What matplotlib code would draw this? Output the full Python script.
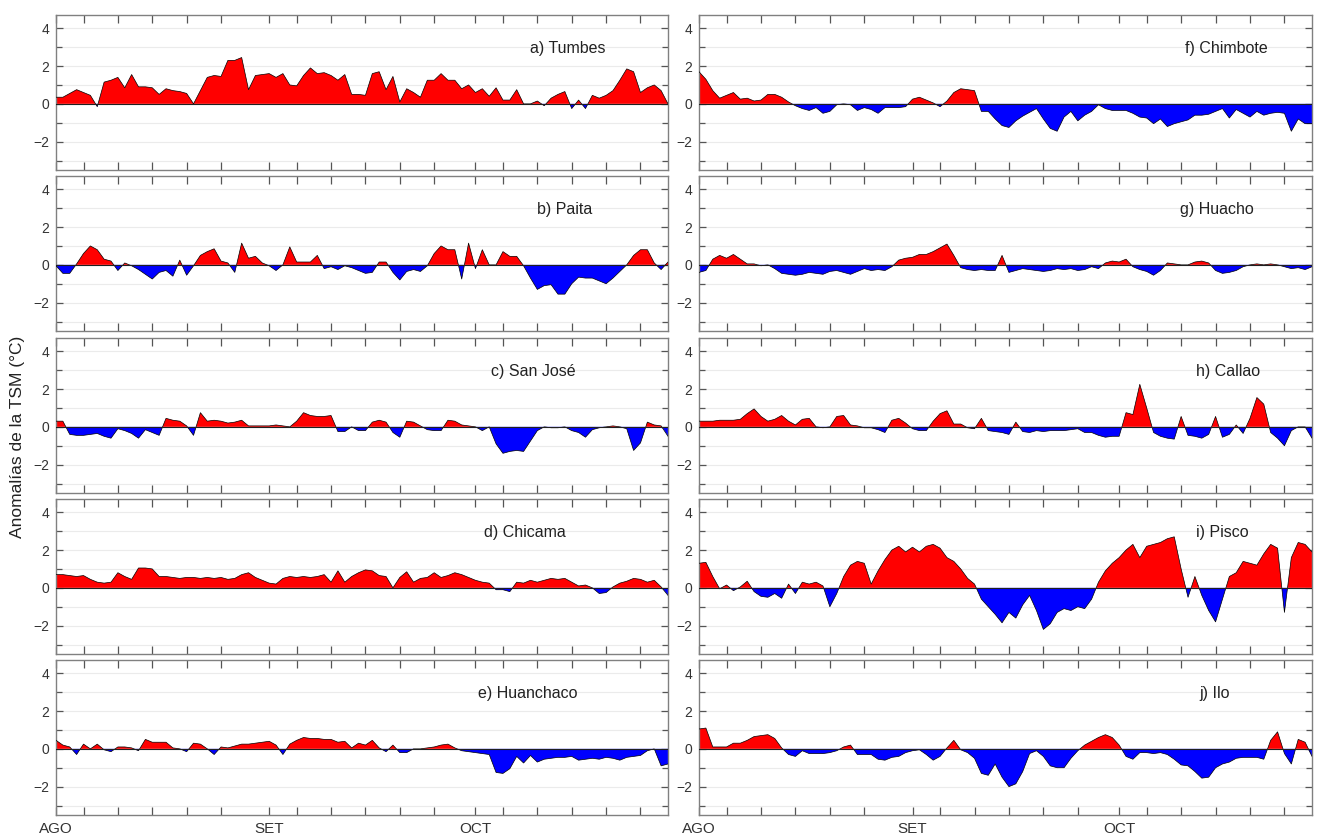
import numpy as np
import matplotlib.pyplot as plt

plt.rcParams['font.family'] = ['Liberation Sans', 'DejaVu Sans']

# Anomalias diarias de la TSM (°C), 1 ago - 29 oct
stations = ["a) Tumbes", "b) Paita", "c) San José", "d) Chicama", "e) Huanchaco",
            "f) Chimbote", "g) Huacho", "h) Callao", "i) Pisco", "j) Ilo"]

tumbes = [0.35, 0.35, 0.55, 0.75, 0.6, 0.45, -0.15, 1.15, 1.25, 1.4,
          0.85, 1.55, 0.9, 0.9, 0.85, 0.5, 0.8, 0.7, 0.65, 0.55,
          0.0, 0.7, 1.4, 1.5, 1.45, 2.3, 2.3, 2.45, 0.75, 1.5,
          1.55, 1.6, 1.4, 1.6, 1.0, 0.95, 1.5, 1.9, 1.6, 1.65,
          1.5, 1.25, 1.55, 0.5, 0.5, 0.45, 1.6, 1.7, 0.75, 1.45,
          0.1, 0.8, 0.6, 0.35, 1.25, 1.25, 1.6, 1.25, 1.25, 0.8,
          1.0, 0.6, 0.8, 0.4, 0.85, 0.2, 0.2, 0.75, 0.0, 0.0,
          0.15, -0.1, 0.3, 0.5, 0.65, -0.25, 0.2, -0.25, 0.45, 0.3,
          0.45, 0.7, 1.25, 1.85, 1.7, 0.6, 0.85, 1.0, 0.7, 0.0]

paita = [-0.05, -0.45, -0.45, 0.05, 0.6, 1.0, 0.8, 0.3, 0.2, -0.3,
         0.1, -0.05, -0.25, -0.5, -0.75, -0.4, -0.3, -0.6, 0.25, -0.55,
         -0.05, 0.5, 0.7, 0.85, 0.2, 0.1, -0.4, 1.15, 0.35, 0.45,
         0.1, -0.05, -0.3, 0.0, 0.95, 0.15, 0.15, 0.15, 0.5, -0.2,
         -0.1, -0.25, -0.05, -0.15, -0.3, -0.45, -0.4, 0.15, 0.15, -0.4,
         -0.8, -0.35, -0.25, -0.35, -0.05, 0.6, 1.0, 0.8, 0.8, -0.75,
         1.15, -0.2, 0.8, 0.0, 0.0, 0.7, 0.45, 0.45, -0.05, -0.7,
         -1.3, -1.1, -1.05, -1.55, -1.55, -1.0, -0.65, -0.7, -0.7, -0.85,
         -1.0, -0.7, -0.35, 0.0, 0.5, 0.8, 0.8, 0.1, -0.25, 0.15]

san_jose = [0.3, 0.3, -0.4, -0.45, -0.45, -0.4, -0.35, -0.5, -0.6, -0.1,
            -0.2, -0.35, -0.6, -0.15, -0.3, -0.45, 0.45, 0.35, 0.3, 0.05,
            -0.45, 0.75, 0.3, 0.35, 0.3, 0.2, 0.25, 0.35, 0.05, 0.05,
            0.05, 0.05, 0.1, 0.05, 0.0, 0.3, 0.75, 0.6, 0.55, 0.55,
            0.6, -0.25, -0.25, 0.0, -0.2, -0.2, 0.25, 0.35, 0.25, -0.3,
            -0.55, 0.3, 0.25, 0.05, -0.15, -0.2, -0.2, 0.35, 0.3, 0.1,
            0.05, 0.0, -0.2, 0.0, -0.9, -1.4, -1.3, -1.25, -1.3, -0.75,
            -0.2, 0.0, -0.05, -0.05, 0.0, -0.2, -0.3, -0.55, -0.15, -0.05,
            0.0, 0.05, 0.0, -0.1, -1.25, -0.85, 0.25, 0.1, 0.05, -0.5]

chicama = [0.7, 0.7, 0.65, 0.6, 0.65, 0.45, 0.3, 0.25, 0.3, 0.8,
           0.6, 0.45, 1.05, 1.05, 1.0, 0.6, 0.6, 0.55, 0.5, 0.55,
           0.55, 0.5, 0.55, 0.5, 0.55, 0.45, 0.5, 0.7, 0.8, 0.55,
           0.4, 0.25, 0.2, 0.5, 0.6, 0.55, 0.6, 0.55, 0.6, 0.7,
           0.3, 0.9, 0.3, 0.6, 0.8, 0.95, 0.9, 0.65, 0.6, 0.0,
           0.55, 0.85, 0.3, 0.5, 0.55, 0.8, 0.55, 0.65, 0.8, 0.7,
           0.55, 0.4, 0.3, 0.25, -0.1, -0.1, -0.2, 0.3, 0.25, 0.4,
           0.3, 0.4, 0.5, 0.45, 0.5, 0.3, 0.1, 0.15, 0.0, -0.3,
           -0.25, 0.05, 0.25, 0.35, 0.5, 0.45, 0.3, 0.4, 0.05, -0.4]

huanchaco = [0.45, 0.2, 0.1, -0.3, 0.25, 0.0, 0.25, -0.05, -0.15, 0.1,
             0.1, 0.05, -0.1, 0.5, 0.35, 0.35, 0.35, 0.05, 0.0, -0.15,
             0.3, 0.25, 0.0, -0.3, 0.1, 0.05, 0.15, 0.25, 0.25, 0.3,
             0.35, 0.4, 0.2, -0.3, 0.25, 0.45, 0.6, 0.55, 0.55, 0.5,
             0.5, 0.35, 0.4, 0.05, 0.3, 0.2, 0.45, 0.05, -0.15, 0.2,
             -0.2, -0.2, 0.0, 0.0, 0.05, 0.1, 0.2, 0.25, 0.05, -0.1,
             -0.15, -0.2, -0.25, -0.3, -1.25, -1.3, -1.05, -0.4, -0.75, -0.35,
             -0.7, -0.55, -0.5, -0.45, -0.45, -0.4, -0.6, -0.55, -0.5, -0.55,
             -0.45, -0.5, -0.6, -0.45, -0.4, -0.35, -0.1, 0.0, -0.9, -0.8]

chimbote = [1.7, 1.3, 0.7, 0.3, 0.45, 0.6, 0.25, 0.3, 0.15, 0.2,
            0.5, 0.5, 0.35, 0.1, -0.1, -0.25, -0.35, -0.2, -0.5, -0.4,
            -0.05, 0.0, -0.05, -0.35, -0.2, -0.3, -0.5, -0.2, -0.2, -0.2,
            -0.15, 0.25, 0.35, 0.2, 0.05, -0.15, 0.15, 0.6, 0.8, 0.75,
            0.7, -0.4, -0.4, -0.8, -1.15, -1.25, -0.9, -0.65, -0.45, -0.25,
            -0.8, -1.3, -1.45, -0.7, -0.4, -0.9, -0.6, -0.4, -0.05, -0.25,
            -0.35, -0.35, -0.35, -0.5, -0.7, -0.75, -1.05, -0.8, -1.2, -1.05,
            -0.95, -0.85, -0.6, -0.6, -0.55, -0.4, -0.25, -0.75, -0.3, -0.5,
            -0.7, -0.4, -0.6, -0.5, -0.45, -0.5, -1.45, -0.8, -1.05, -1.05]

huacho = [-0.4, -0.3, 0.3, 0.5, 0.35, 0.55, 0.3, 0.05, 0.05, -0.05,
          0.0, -0.2, -0.45, -0.5, -0.55, -0.5, -0.4, -0.45, -0.5, -0.35,
          -0.3, -0.4, -0.5, -0.35, -0.2, -0.3, -0.25, -0.3, -0.1, 0.25,
          0.35, 0.4, 0.55, 0.55, 0.7, 0.9, 1.1, 0.5, -0.15, -0.25,
          -0.3, -0.25, -0.3, -0.3, 0.5, -0.4, -0.3, -0.2, -0.25, -0.3,
          -0.35, -0.3, -0.2, -0.25, -0.2, -0.3, -0.25, -0.1, -0.2, 0.1,
          0.2, 0.15, 0.3, -0.1, -0.25, -0.35, -0.55, -0.3, 0.1, 0.05,
          0.0, 0.0, 0.15, 0.2, 0.1, -0.3, -0.45, -0.4, -0.3, -0.1,
          0.0, 0.05, 0.0, 0.05, 0.0, -0.1, -0.2, -0.15, -0.25, -0.1]

callao = [0.3, 0.3, 0.3, 0.35, 0.35, 0.35, 0.4, 0.7, 0.95, 0.55,
          0.3, 0.4, 0.6, 0.3, 0.1, 0.4, 0.45, 0.0, -0.05, 0.0,
          0.55, 0.6, 0.1, 0.05, -0.05, -0.05, -0.15, -0.3, 0.35, 0.45,
          0.2, -0.1, -0.2, -0.2, 0.3, 0.7, 0.85, 0.15, 0.15, -0.05,
          -0.1, 0.45, -0.2, -0.25, -0.3, -0.4, 0.25, -0.25, -0.3, -0.2,
          -0.25, -0.2, -0.2, -0.2, -0.15, -0.1, -0.3, -0.3, -0.45, -0.55,
          -0.5, -0.5, 0.75, 0.65, 2.25, 1.0, -0.3, -0.5, -0.6, -0.65,
          0.55, -0.45, -0.5, -0.6, -0.4, 0.55, -0.55, -0.4, 0.1, -0.35,
          0.45, 1.55, 1.2, -0.3, -0.6, -1.0, -0.2, 0.0, 0.0, -0.6]

pisco = [1.3, 1.35, 0.6, -0.05, 0.15, -0.15, 0.05, 0.35, -0.2, -0.45,
         -0.5, -0.3, -0.55, 0.2, -0.3, 0.3, 0.2, 0.3, 0.1, -1.0,
         -0.3, 0.6, 1.2, 1.4, 1.3, 0.2, 0.9, 1.5, 2.0, 2.2,
         1.9, 2.15, 1.9, 2.2, 2.3, 2.1, 1.6, 1.4, 1.0, 0.5,
         0.2, -0.6, -1.0, -1.4, -1.85, -1.3, -1.6, -0.9, -0.4, -1.2,
         -2.2, -1.9, -1.3, -1.1, -1.2, -1.0, -1.1, -0.6, 0.3, 0.9,
         1.3, 1.6, 2.0, 2.3, 1.6, 2.2, 2.3, 2.4, 2.6, 2.7,
         1.0, -0.5, 0.6, -0.4, -1.2, -1.8, -0.6, 0.6, 0.8, 1.4,
         1.3, 1.2, 1.8, 2.3, 2.1, -1.3, 1.6, 2.4, 2.3, 1.9]

ilo = [1.05, 1.1, 0.1, 0.1, 0.1, 0.3, 0.3, 0.45, 0.65, 0.7,
       0.75, 0.55, 0.05, -0.3, -0.4, -0.1, -0.25, -0.25, -0.25, -0.2,
       -0.1, 0.1, 0.2, -0.3, -0.3, -0.3, -0.55, -0.6, -0.45, -0.4,
       -0.2, -0.1, -0.05, -0.3, -0.6, -0.4, 0.05, 0.45, -0.05, -0.2,
       -0.5, -1.3, -1.4, -0.8, -1.5, -2.0, -1.85, -1.2, -0.25, -0.1,
       -0.4, -0.9, -1.0, -1.0, -0.5, -0.1, 0.2, 0.4, 0.6, 0.75,
       0.6, 0.2, -0.4, -0.55, -0.2, -0.2, -0.25, -0.2, -0.3, -0.55,
       -0.85, -0.9, -1.2, -1.55, -1.5, -1.0, -0.8, -0.7, -0.5, -0.45,
       -0.45, -0.45, -0.55, 0.45, 0.9, -0.25, -0.8, 0.5, 0.35, -0.4]

series = [tumbes, paita, san_jose, chicama, huanchaco,
          chimbote, huacho, callao, pisco, ilo]

# tick days (index from 1 Aug): 5,10,...,25 of each month plus 1 Sep / 1 Oct
tick_days = [0, 4, 9, 14, 19, 24, 31, 35, 40, 45, 50, 55, 61, 65, 70, 75, 80, 85]
month_labels = {0: "AGO", 31: "SET", 61: "OCT"}

# label x positions (axes fraction) per panel
label_x = [0.775, 0.786, 0.71, 0.70, 0.69, 0.793, 0.785, 0.81, 0.81, 0.817]

W, H = 1317, 835
fig = plt.figure(figsize=(W / 100, H / 100), dpi=100)

col_left = [56, 699]
col_width = [612, 613]
row_top = [15, 176, 338, 499, 660]
row_h = 155
frame = '#808080'

for k, (name, values) in enumerate(zip(stations, series)):
    col, row = divmod(k, 5)
    rect = [col_left[col] / W, 1 - (row_top[row] + row_h) / H,
            col_width[col] / W, row_h / H]
    ax = fig.add_axes(rect)
    y = np.array(values)
    x = np.arange(len(y))

    for yy in [-3, -2, -1, 1, 2, 3, 4]:
        ax.axhline(yy, color='#ebebeb', lw=0.8, zorder=0)
    ax.fill_between(x, 0, y, where=y >= 0, interpolate=True,
                    color='#ff0000', lw=0, zorder=2)
    ax.fill_between(x, 0, y, where=y <= 0, interpolate=True,
                    color='#0000ff', lw=0, zorder=2)
    ax.plot(x, y, color='black', lw=0.5, zorder=3)
    ax.axhline(0, color='#202020', lw=0.8, zorder=3)

    ax.set_xlim(0, 89)
    ax.set_ylim(-3.5, 4.7)
    ax.set_yticks([-2, 0, 2, 4])
    ax.set_yticks([-3, -1, 1, 3], minor=True)
    ax.set_xticks(tick_days)
    if row == 4:
        ax.set_xticklabels([month_labels.get(d, "") for d in tick_days])
    else:
        ax.set_xticklabels([])

    ax.tick_params(axis='x', direction='in', top=True, bottom=True,
                   length=6, width=0.9, color='#555555', pad=5,
                   labelsize=11, labelcolor='#333333')
    ax.tick_params(axis='y', which='major', direction='in', left=True,
                   right=True, length=5, width=0.9, color='#555555',
                   labelsize=10, labelcolor='#333333', pad=5)
    ax.tick_params(axis='y', which='minor', direction='in', left=True,
                   right=True, length=4, width=0.9, color='#555555')
    for s in ax.spines.values():
        s.set_color(frame)
        s.set_linewidth(1.0)

    ax.text(label_x[k], 0.785, name, transform=ax.transAxes,
            fontsize=11.5, color='#222222', ha='left', va='center')

fig.text(18 / W, 0.477, "Anomalías de la TSM (°C)", rotation=90,
         ha='center', va='center', fontsize=12.5, color='#222222')

fig.savefig("out.png", dpi=100)
